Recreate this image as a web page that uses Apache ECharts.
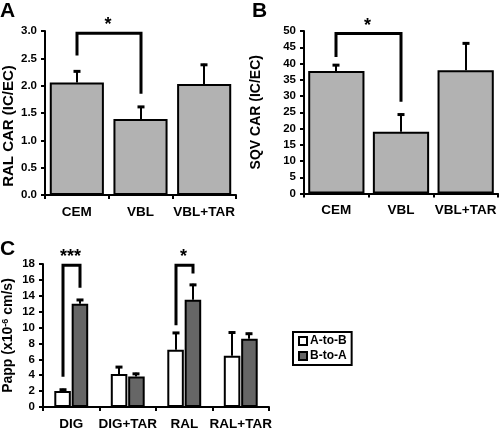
<!DOCTYPE html>
<html><head><meta charset="utf-8">
<script src="https://cdn.jsdelivr.net/npm/echarts@6/dist/echarts.min.js"></script>
<style>html,body{margin:0;padding:0;background:#fff}#c{width:500px;height:431px}</style>
</head><body><div id="c"></div>
<script>
// ---- data ----
const catsAB = ['CEM', 'VBL', 'VBL+TAR'];
const ralCar = [2.06, 1.39, 2.03];
const ralCarErr = [2.28, 1.63, 2.40];
const sqvCar = [37.7, 19.0, 37.9];
const sqvCarErr = [39.8, 24.6, 46.5];
const catsC = ['DIG', 'DIG+TAR', 'RAL', 'RAL+TAR'];
const aToB = [2.0, 4.15, 7.2, 6.45];
const aToBErr = [2.3, 5.15, 9.45, 9.5];
const bToA = [13.0, 3.85, 13.5, 8.6];
const bToAErr = [13.6, 4.3, 15.5, 9.35];
// brackets: [leftCat, leftBottom, top, rightCat, rightBottom]
const bracketA = [[0, 2.55, 2.96, 1, 1.85]];
const starsA = ['*'];
const bracketB = [[0, 42, 49.2, 1, 28.2]];
const starsB = ['*'];
const bracketC = [[0, 3.8, 17.85, 0, 15.0], [2, 10.3, 17.85, 2, 16.8]];
const starsC = ['***', '*'];
const ticksA = {min: 0, max: 3, interval: 0.5};
const ticksB = {min: 0, max: 50, interval: 5};
const ticksC = {min: 0, max: 18, interval: 2};

const FONT = '"Liberation Sans", Arial, sans-serif';
const BAR_GAP = 0.05, CAT_GAP = 0.4;
function pairOffset(band) { const bw = band * (1 - CAT_GAP) / (2 + BAR_GAP); return bw * (1 + BAR_GAP) / 2; }

function errRender(side) {
  return function (params, api) {
    const i = api.value(0);
    const base = api.coord([i, api.value(1)]);
    const top = api.coord([i, api.value(2)]);
    const band = api.size([1, 0])[0];
    const x = Math.round(base[0] + side * pairOffset(band));
    return {type: 'group', children: [
      {type: 'line', shape: {x1: x, y1: base[1], x2: x, y2: top[1]}, style: {stroke: '#000', lineWidth: 2}},
      {type: 'line', shape: {x1: x - 3.5, y1: top[1] + 1, x2: x + 3.5, y2: top[1] + 1}, style: {stroke: '#000', lineWidth: 3}}
    ]};
  };
}
function bracketRender(stars, paired) {
  return function (params, api) {
    const band = api.size([1, 0])[0];
    const off = paired ? pairOffset(band) : 0;
    const l0 = api.coord([api.value(0), api.value(1)]);
    const lt = api.coord([api.value(0), api.value(2)]);
    const r0 = api.coord([api.value(3), api.value(4)]);
    const xl = Math.round(l0[0] - off), xr = Math.round(r0[0] + off);
    return {type: 'group', children: [
      {type: 'polyline', shape: {points: [[xl, l0[1]], [xl, lt[1]], [xr, lt[1]], [xr, r0[1]]]},
        style: {stroke: '#000', lineWidth: 3, fill: null, lineJoin: 'miter', lineCap: 'butt'}},
      {type: 'text', style: {text: stars[params.dataIndex], x: (xl + xr) / 2 - 1, y: lt[1] + 1, align: 'center',
        verticalAlign: 'bottom', font: 'bold 18px ' + FONT, fill: '#000'}}
    ]};
  };
}
const axisLine = {show: true, lineStyle: {color: '#000', width: 2}};
const axisTick = {show: true, length: 4, lineStyle: {color: '#000', width: 2}};
function xAx(grid, cats) {
  return {type: 'category', gridIndex: grid, data: cats, axisLine, axisTick,
    axisLabel: {interval: 0, margin: 10, color: '#000', fontFamily: FONT, fontWeight: 'bold', fontSize: 13.5}};
}
function yAx(grid, t, name, gap, fmt, size, pad) {
  return {type: 'value', gridIndex: grid, min: t.min, max: t.max, interval: t.interval, axisLine, axisTick,
    splitLine: {show: false},
    axisLabel: {margin: 8, color: '#000', fontFamily: FONT, fontWeight: 'bold', fontSize: 11.5, formatter: fmt},
    name: name, nameLocation: 'middle', nameGap: gap,
    nameTextStyle: {color: '#000', fontFamily: FONT, fontWeight: 'bold', fontSize: size, padding: pad,
      rich: {sup: {fontSize: 9, fontWeight: 'bold', fontFamily: FONT, color: '#000', verticalAlign: 'top'}}}};
}
const barStyleAB = {color: '#b2b2b2', borderColor: '#000', borderWidth: 2};

const chart = echarts.init(document.getElementById('c'), null, {renderer: 'canvas'});
chart.setOption({
  animation: false,
  backgroundColor: '#fff',
  grid: [
    {left: 44, top: 31, width: 192, height: 164},
    {left: 304, top: 31, width: 194, height: 162.5},
    {left: 43, top: 264, width: 226, height: 145}
  ],
  xAxis: [xAx(0, catsAB), xAx(1, catsAB), xAx(2, catsC)],
  yAxis: [
    yAx(0, ticksA, 'RAL CAR (IC/EC)', 29, v => v.toFixed(1), 15, [0, 26, 0, 0]),
    yAx(1, ticksB, 'SQV CAR (IC/EC)', 41, v => String(v), 14, 0),
    yAx(2, ticksC, 'Papp (x10{sup|-6} cm/s)', 28, v => String(v), 14, 0)
  ],
  legend: {
    left: 293, top: 332, orient: 'vertical', data: ['A-to-B', 'B-to-A'], icon: 'rect',
    itemWidth: 8, itemHeight: 8, itemGap: 3, padding: [3, 5, 3, 5],
    borderColor: '#000', borderWidth: 2,
    textStyle: {color: '#000', fontFamily: FONT, fontWeight: 'bold', fontSize: 12, padding: [0, 0, 0, -2]}
  },
  graphic: [
    {type: 'text', left: 0, top: 1, style: {text: 'A', font: 'bold 21px ' + FONT, fill: '#000'}},
    {type: 'text', left: 252, top: 1, style: {text: 'B', font: 'bold 21px ' + FONT, fill: '#000'}},
    {type: 'text', left: 0, top: 239, style: {text: 'C', font: 'bold 21px ' + FONT, fill: '#000'}}
  ],
  series: [
    {type: 'bar', xAxisIndex: 0, yAxisIndex: 0, data: ralCar, barCategoryGap: '15%', itemStyle: barStyleAB},
    {type: 'custom', xAxisIndex: 0, yAxisIndex: 0, z: 5, renderItem: errRender(0),
      data: ralCar.map((v, i) => [i, v, ralCarErr[i]]), encode: {x: 0, y: [1, 2]}},
    {type: 'custom', xAxisIndex: 0, yAxisIndex: 0, z: 5, renderItem: bracketRender(starsA, false),
      data: bracketA, encode: {x: [0, 3], y: [1, 2, 4]}},
    {type: 'bar', xAxisIndex: 1, yAxisIndex: 1, data: sqvCar, barCategoryGap: '13%', itemStyle: barStyleAB},
    {type: 'custom', xAxisIndex: 1, yAxisIndex: 1, z: 5, renderItem: errRender(0),
      data: sqvCar.map((v, i) => [i, v, sqvCarErr[i]]), encode: {x: 0, y: [1, 2]}},
    {type: 'custom', xAxisIndex: 1, yAxisIndex: 1, z: 5, renderItem: bracketRender(starsB, false),
      data: bracketB, encode: {x: [0, 3], y: [1, 2, 4]}},
    {type: 'bar', name: 'A-to-B', xAxisIndex: 2, yAxisIndex: 2, data: aToB,
      barCategoryGap: (CAT_GAP * 100) + '%', barGap: (BAR_GAP * 100) + '%',
      itemStyle: {color: '#ffffff', borderColor: '#000', borderWidth: 2}},
    {type: 'bar', name: 'B-to-A', xAxisIndex: 2, yAxisIndex: 2, data: bToA,
      barCategoryGap: (CAT_GAP * 100) + '%', barGap: (BAR_GAP * 100) + '%',
      itemStyle: {color: '#666666', borderColor: '#000', borderWidth: 2}},
    {type: 'custom', xAxisIndex: 2, yAxisIndex: 2, z: 5, renderItem: errRender(-1),
      data: aToB.map((v, i) => [i, v, aToBErr[i]]), encode: {x: 0, y: [1, 2]}},
    {type: 'custom', xAxisIndex: 2, yAxisIndex: 2, z: 5, renderItem: errRender(1),
      data: bToA.map((v, i) => [i, v, bToAErr[i]]), encode: {x: 0, y: [1, 2]}},
    {type: 'custom', xAxisIndex: 2, yAxisIndex: 2, z: 5, renderItem: bracketRender(starsC, true),
      data: bracketC, encode: {x: [0, 3], y: [1, 2, 4]}}
  ]
});
</script></body></html>
